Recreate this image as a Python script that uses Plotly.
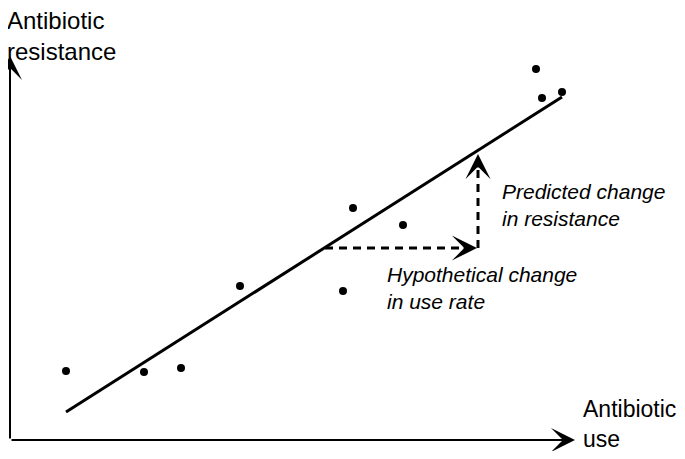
import plotly.graph_objects as go

# observations (x = antibiotic use, y = antibiotic resistance), arbitrary units
use = [56, 134, 171, 230, 333, 343, 393, 526, 532, 552]
resistance = [69, 68, 72, 154, 149, 232, 215, 371, 342, 348]

# fitted trend line end points
fit_use = [56, 552]
fit_res = [28, 343]

# hypothetical change in use and the predicted change in resistance
change_use = [315, 462]
change_res = [192, 192]
pred_use = [468, 468]
pred_res = [192, 280]

# axis arrows
x_axis_end = 565
y_axis_end = 384

FONT = "Liberation Sans, Arial, sans-serif"

fig = go.Figure()

# trend line
fig.add_trace(go.Scatter(
    x=fit_use, y=fit_res, mode="lines",
    line=dict(color="black", width=3),
    hoverinfo="skip",
))

# dashed lines
for xs, ys in [(change_use, change_res), (pred_use, pred_res)]:
    fig.add_trace(go.Scatter(
        x=xs, y=ys, mode="lines",
        line=dict(color="black", width=3, dash="8px,6px"),
        hoverinfo="skip",
    ))

# points
fig.add_trace(go.Scatter(
    x=use, y=resistance, mode="markers",
    marker=dict(color="black", size=8),
))


def head(x, y, ax, ay, size):
    fig.add_annotation(x=x, y=y, ax=ax, ay=ay, xref="x", yref="y", axref="x", ayref="y",
                       showarrow=True, arrowhead=3, arrowwidth=2, arrowsize=size,
                       arrowcolor="black", text="")


# axes with arrow heads
head(x_axis_end, 0, 0, 0, 2.0)
head(0, y_axis_end, 0, 0, 2.0)

# heads of the dashed arrows
head(change_use[1] + 5, change_res[1], change_use[1] - 8, change_res[1], 2.1)
head(pred_use[1], pred_res[1] + 6, pred_use[1], pred_res[1] - 8, 2.1)

# axis titles
fig.add_annotation(xref="paper", yref="paper", x=0, y=1, xshift=-3, yshift=3,
                   text="Antibiotic<br>resistance", xanchor="left", yanchor="top",
                   showarrow=False, align="left", font=dict(size=24))
fig.add_annotation(x=572, y=16, text="Antibiotic<br>use", xanchor="left", yanchor="middle",
                   showarrow=False, align="left", borderpad=0, font=dict(size=23))

# explanation texts
fig.add_annotation(x=490, y=235, text="<i>Predicted change<br>in resistance</i>",
                   xanchor="left", yanchor="middle", showarrow=False, align="left",
                   font=dict(size=21))
fig.add_annotation(x=375, y=152, text="<i>Hypothetical change<br>in use rate</i>",
                   xanchor="left", yanchor="middle", showarrow=False, align="left",
                   font=dict(size=21))

# the page keeps an 8 px margin, so the figure is sized to fit without scrolling
# and the ranges are shifted to match
fig.update_layout(
    width=669, height=443,
    margin=dict(l=0, r=0, t=0, b=0),
    paper_bgcolor="white", plot_bgcolor="white",
    showlegend=False,
    font=dict(family=FONT, color="black"),
    xaxis=dict(range=[-2, 667], visible=False, fixedrange=True),
    yaxis=dict(range=[-11, 432], visible=False, fixedrange=True),
)

fig.write_html("out.html")
